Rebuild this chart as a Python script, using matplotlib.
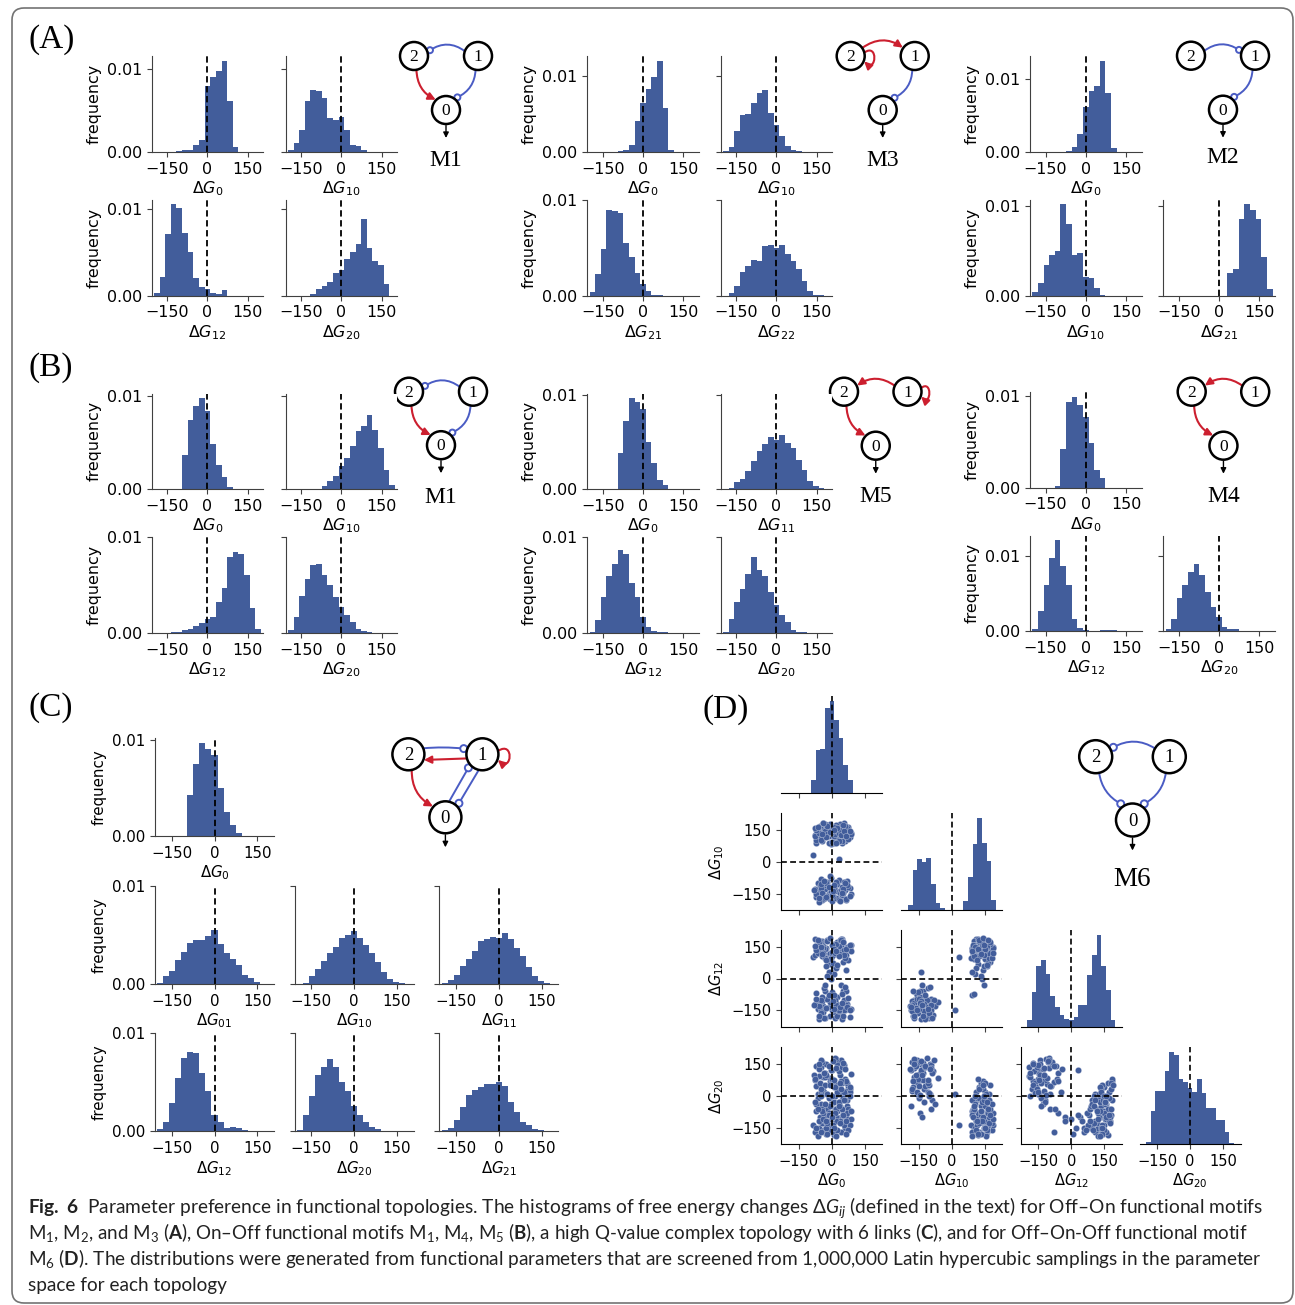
import numpy as np
import matplotlib
matplotlib.use('Agg')
import matplotlib.pyplot as plt
from matplotlib.patches import Circle, FancyArrowPatch, FancyBboxPatch
from matplotlib.path import Path
from matplotlib import font_manager
from matplotlib.ticker import FormatStrFormatter

W, H = 1295, 1305
BLUE = '#425d9b'
RED = '#cc1f2f'
NBLUE = '#4a5cc4'

# histogram bins (width 21, centred on 0)
bin_centers = [-210, -189, -168, -147, -126, -105, -84, -63, -42, -21, 0,
               21, 42, 63, 84, 105, 126, 147, 168, 189, 210]

# (A) Off-On motifs
A_M1_G0 = [0, 0, 0, 0, 0, 0.0001, 0.0003, 0.0003, 0.0008, 0.0015, 0.0079, 0.0090, 0.0098, 0.0110, 0.0061, 0.0006, 0, 0, 0, 0, 0]
A_M1_G10 = [0, 0.0002, 0.0011, 0.0027, 0.0061, 0.0074, 0.0073, 0.0065, 0.0041, 0.0038, 0.0042, 0.0026, 0.0008, 0.0007, 0.0003, 0, 0, 0, 0, 0, 0]
A_M1_G12 = [0, 0.0003, 0.0022, 0.0071, 0.0106, 0.0101, 0.0073, 0.0051, 0.0020, 0.0010, 0.0007, 0.0003, 0.0002, 0.0006, 0, 0, 0, 0, 0, 0, 0]
A_M1_G20 = [0, 0, 0, 0, 0, 0.0002, 0.0007, 0.0011, 0.0016, 0.0026, 0.0030, 0.0042, 0.0050, 0.0060, 0.0089, 0.0055, 0.0040, 0.0035, 0.0013, 0, 0]
A_M3_G0 = [0, 0, 0, 0, 0, 0, 0.0001, 0.0002, 0.0009, 0.0041, 0.0064, 0.0083, 0.0099, 0.0120, 0.0058, 0.0003, 0, 0, 0, 0, 0]
A_M3_G10 = [0, 0.0001, 0.0007, 0.0028, 0.0049, 0.0050, 0.0064, 0.0077, 0.0082, 0.0051, 0.0036, 0.0021, 0.0008, 0.0003, 0.0001, 0, 0, 0, 0, 0, 0]
A_M3_G21 = [0, 0.0004, 0.0022, 0.0048, 0.0089, 0.0088, 0.0086, 0.0055, 0.0040, 0.0023, 0.0012, 0.0005, 0.0001, 0.0001, 0, 0, 0, 0, 0, 0, 0]
A_M3_G22 = [0, 0, 0.0003, 0.0010, 0.0024, 0.0031, 0.0037, 0.0036, 0.0052, 0.0053, 0.0050, 0.0053, 0.0043, 0.0036, 0.0028, 0.0015, 0.0005, 0.0001, 0.0001, 0, 0]
A_M2_G0 = [0, 0, 0, 0, 0, 0, 0, 0.0001, 0.0007, 0.0024, 0.0061, 0.0084, 0.0090, 0.0125, 0.0080, 0.0005, 0, 0, 0, 0, 0]
A_M2_G10 = [0, 0.0004, 0.0014, 0.0034, 0.0045, 0.0050, 0.0102, 0.0080, 0.0045, 0.0047, 0.0021, 0.0020, 0.0008, 0.0001, 0, 0, 0, 0, 0, 0, 0]
A_M2_G21 = [0, 0, 0, 0, 0, 0, 0, 0, 0, 0, 0, 0, 0.0025, 0.0030, 0.0085, 0.0102, 0.0095, 0.0085, 0.0043, 0.0007, 0]

# (B) On-Off motifs
B_M1_G0 = [0, 0, 0, 0, 0, 0, 0.0037, 0.0074, 0.0089, 0.0098, 0.0084, 0.0049, 0.0026, 0.0013, 0.0002, 0, 0, 0, 0, 0, 0]
B_M1_G10 = [0, 0, 0, 0, 0, 0, 0, 0.0003, 0.0009, 0.0014, 0.0025, 0.0033, 0.0046, 0.0063, 0.0068, 0.0080, 0.0064, 0.0044, 0.0021, 0.0004, 0]
B_M1_G12 = [0, 0, 0, 0, 0.0001, 0.0001, 0.0003, 0.0004, 0.0007, 0.0010, 0.0014, 0.0017, 0.0032, 0.0047, 0.0079, 0.0085, 0.0083, 0.0061, 0.0026, 0.0004, 0]
B_M1_G20 = [0, 0.0003, 0.0017, 0.0039, 0.0056, 0.0071, 0.0072, 0.0061, 0.0050, 0.0038, 0.0027, 0.0019, 0.0011, 0.0004, 0.0002, 0.0001, 0, 0, 0, 0, 0]
B_M5_G0 = [0, 0, 0, 0, 0, 0.00005, 0.0038, 0.0072, 0.0097, 0.0093, 0.0085, 0.0050, 0.0028, 0.0010, 0.0004, 0, 0, 0, 0, 0, 0]
B_M5_G11 = [0, 0, 0.0001, 0.0007, 0.0011, 0.0019, 0.0030, 0.0040, 0.0048, 0.0055, 0.0052, 0.0058, 0.0049, 0.0044, 0.0031, 0.0020, 0.0008, 0.0003, 0.0001, 0, 0]
B_M5_G12 = [0, 0.0001, 0.0013, 0.0038, 0.0059, 0.0072, 0.0087, 0.0082, 0.0052, 0.0038, 0.0017, 0.0006, 0.0002, 0.0001, 0.0001, 0, 0, 0, 0, 0, 0]
B_M5_G20 = [0, 0.0001, 0.0014, 0.0032, 0.0046, 0.0062, 0.0079, 0.0066, 0.0059, 0.0043, 0.0029, 0.0019, 0.0011, 0.0003, 0.0001, 0.0001, 0, 0, 0, 0, 0]
B_M4_G0 = [0, 0, 0, 0, 0, 0.0002, 0.0042, 0.0093, 0.0099, 0.0090, 0.0077, 0.0048, 0.0019, 0.0010, 0, 0, 0, 0, 0, 0, 0]
B_M4_G12 = [0, 0.0003, 0.0026, 0.0061, 0.0097, 0.0121, 0.0087, 0.0061, 0.0016, 0.0004, 0.0001, 0, 0, 0.0001, 0.0001, 0.0001, 0, 0, 0, 0, 0]
B_M4_G20 = [0, 0.0003, 0.0016, 0.0044, 0.0061, 0.0079, 0.0089, 0.0074, 0.0052, 0.0032, 0.0019, 0.0005, 0.0003, 0.0003, 0, 0, 0, 0, 0, 0, 0]

# (C) complex topology with 6 links
C_G0 = [0, 0, 0, 0, 0, 0, 0.0043, 0.0075, 0.0097, 0.0091, 0.0084, 0.0050, 0.0025, 0.0012, 0.0003, 0, 0, 0, 0, 0, 0]
C_G01 = [0, 0.0001, 0.0008, 0.0013, 0.0024, 0.0033, 0.0042, 0.0045, 0.0045, 0.0049, 0.0055, 0.0041, 0.0032, 0.0026, 0.0019, 0.0009, 0.0006, 0.0002, 0, 0, 0]
C_G10 = [0, 0, 0.0001, 0.0008, 0.0015, 0.0023, 0.0032, 0.0038, 0.0047, 0.0050, 0.0054, 0.0047, 0.0040, 0.0032, 0.0022, 0.0012, 0.0005, 0.0002, 0.0001, 0, 0]
C_G11 = [0, 0.0001, 0.0004, 0.0009, 0.0018, 0.0026, 0.0034, 0.0044, 0.0046, 0.0048, 0.0047, 0.0052, 0.0046, 0.0037, 0.0029, 0.0017, 0.0008, 0.0003, 0.0001, 0, 0]
C_G12 = [0, 0.0002, 0.0010, 0.0029, 0.0054, 0.0075, 0.0081, 0.0080, 0.0060, 0.0041, 0.0017, 0.0009, 0.0003, 0.0004, 0.0003, 0.0001, 0.00005, 0.00005, 0, 0, 0]
C_G20 = [0, 0.0001, 0.0017, 0.0036, 0.0057, 0.0066, 0.0074, 0.0066, 0.0050, 0.0041, 0.0026, 0.0017, 0.0009, 0.0004, 0.0002, 0.00005, 0.00005, 0, 0, 0, 0]
C_G21 = [0, 0.0001, 0.0003, 0.0012, 0.0025, 0.0037, 0.0042, 0.0045, 0.0048, 0.0048, 0.0050, 0.0046, 0.0030, 0.0020, 0.0010, 0.0006, 0.0002, 0.0001, 0, 0, 0]

# (D) Off-On-Off motif M6: diagonal histograms
D_G0 = [0, 0, 0, 0, 0, 0, 0.0017, 0.0054, 0.0055, 0.0106, 0.0115, 0.0091, 0.0069, 0.0035, 0.0017, 0, 0, 0, 0, 0, 0]
D_G10 = [0, 0.0007, 0.0049, 0.0062, 0.0059, 0.0064, 0.0032, 0.0009, 0.0003, 0, 0, 0, 0, 0.0011, 0.0040, 0.0080, 0.0112, 0.0081, 0.0060, 0.0012, 0]
D_G12 = [0, 0.0008, 0.0042, 0.0073, 0.0080, 0.0064, 0.0037, 0.0024, 0.0015, 0.0010, 0.0009, 0.0012, 0.0027, 0.0027, 0.0062, 0.0087, 0.0111, 0.0073, 0.0045, 0.0008, 0]
D_G20 = [0, 0.0003, 0.0039, 0.0063, 0.0063, 0.0086, 0.0109, 0.0105, 0.0077, 0.0073, 0.0067, 0.0062, 0.0077, 0.0061, 0.0043, 0.0043, 0.0029, 0.0029, 0.0014, 0.0002, 0]

# (D) sampled parameter sets shown in the scatter plots
sc_G0 = [-40, 10, 55, -65, 25, -10, 70, -30, 40, -55, 0, 80, -20, 35, -70, 15, 60, -45, -5, 45,
         -35, 20, -60, 75, -15, 30, -50, 5, 65, -25, 50, -75, 15, -40, 85, -10, 40, -60, 25, -20,
         55, -45, 10, -30, 70, -5, 30, -50, 0, 45, -85, 30,
         -25, 50, -70, 20, 65, -50, 5, 35, -15, 80, -35, 45, -60, 10, -80, 60,
         20, -50, 60, -20, 35, -70, 5, 80, -35, 45, -10, 65, -55, 15, -25, 50, -65, 25, -5, 70,
         -40, 10, 40, -75, 30, -15, 55, -45, 0, 85, -30, 20, -60, 45, -20, 75, -50, 10, 35, -70,
         60, -5, 25, -35, 50, -25, 80, -55, 15, -10, 40, -40, 65, -75, 5, 30, -65, 55, -15, 20,
         -45, 70, -30, 10, 45, -20, 35, -50, 60, 0,
         -60, 15, 75, -30, 40, -70, 0, 55, -20, 85, -50, 25, -10, 65, -40, 30, -75, 10, 50, -25,
         80, -45, 20, -65]
sc_G10 = [-150, -120, -170, -100, -140, -175, -90, -130, -160, -115, -185, -125, -95, -145, -165, -105, -135, -180, -75, -155,
          -110, -170, -140, -120, -150, -85, -125, -160, -180, -100, -145, -130, -115, -175, -150, -65, -135, -190, -105, -160,
          -95, -145, -125, -170, -110, -140, -180, -80, -155, -120, 30, 15,
          -165, -130, -150, -95, -175, -105, -140, -185, -120, -160, -90, -145, -170, -110, -135, -100,
          120, 150, 100, 170, 135, 90, 160, 125, 145, 110, 180, 140, 130, 95, 155, 175, 115, 150, 85, 130,
          165, 105, 140, 125, 160, 120, 185, 100, 145, 135, 175, 110, 150, 90, 130, 165, 140, 120, 180, 105,
          155, 135, 95, 160, 125, 145, 115, 170, 130, 150, 100, 185, 140, 120, 165, 135, 155, 110, 90, 175,
          125, 160, 145, 90, 100, 130, 150, 115, 170, 140,
          135, 165, 110, 180, 125, 150, 95, 145, 170, 130, 105, 160, 140, 120, 185, 100, 160, 150, 175, 115,
          145, 130, 90, 165]
sc_G12 = [-130, -160, -100, -145, -85, -175, -120, -60, -140, -110, -150, -180, -95, -125, -70, -185, -150, -105, -130, -165,
          -45, -115, -190, -90, -135, -170, -155, -80, -125, -140, -60, -120, -100, -160, -145, -110, -30, -130, -175, -95,
          -150, -85, -120, -185, -135, 30, -155, -100, -65, -190, 100, -150,
          -140, -175, -95, -125, -60, -165, -105, -135, -80, -150, -185, -115, -175, -145, -125, -40,
          130, 160, 90, 110, 175, 140, 60, 150, 100, 185, 120, 40, 165, 115, 145, 80, 125, 170, 95, 135,
          155, 20, 185, 110, 130, 70, 150, 175, 105, 160, 140, 50, 120, 145, 180, 85, 135, 165, 115, 155,
          125, 0, 150, 100, 170, 60, 140, 175, 130, 90, 160, 145, 110, 185, 75, 155, 120, 135, 30, 165,
          105, 150, -30, -80, -75, 10, 180, 140, 95, 125,
          170, 120, 150, 95, 180, 135, 160, 110, 175, 130, 150, 65, 190, 140, 120, 105, 155, 140, 170, 85,
          160, 115, 130, 180]
sc_G20 = [90, 40, 130, 10, 150, 70, -20, 110, 170, 55, 120, 30, -60, 100, 140, 0, 80, 160, -40, 60,
          20, 175, 95, 45, -10, 115, 135, 65, 25, 150, -80, 75, 180, 40, 105, 85, -100, 125, 50, 10,
          145, 160, -30, 90, 60, 120, 30, 170, 80, 135, -140, 10,
          100, 155, 45, 130, 70, 15, 165, -50, 140, 20, 110, 5, 150, 75, 100, 125,
          -100, -40, -150, 10, -120, -70, -170, 40, -130, -20, -160, -100, 60, -60, -180, -90, -10, 20, -140, -50,
          -110, -150, 70, -170, -30, -80, -140, -60, 0, -110, 50, -120, -150, -20, -90, -60, 30, -185, -130, -40,
          10, -110, -70, -160, -10, -150, -140, -100, 40, -50, -170, -80, -120, 80, -140, -30, -190, 20, -90, -60,
          -130, -80, -120, -170, -60, -180, 60, -170, -20, -100,
          -120, -80, -160, -40, 30, -150, -100, -20, -130, -70, 0, -160, 50, -180, -110, -50, -30, -150, -90, -120,
          0, -70, -190, -60]

fig = plt.figure(figsize=(W / 100, H / 100), dpi=100)

# overlay in pixel coordinates for diagrams, labels, caption, frame
ov = fig.add_axes([0, 0, 1, 1])
ov.set_xlim(0, W)
ov.set_ylim(H, 0)
ov.axis('off')
ov.patch.set_alpha(0)


def px_axes(x0, y0, w, h, **kw):
    return fig.add_axes([x0 / W, 1 - (y0 + h) / H, w / W, h / H], **kw)


def draw_hist(ax, heights, sub, fs):
    ax.bar(bin_centers, heights, width=21, color=BLUE, linewidth=0)
    ax.axvline(0, color='black', ls=(0, (3.5, 2)), lw=1.3)
    ax.set_xlim(-208, 208)
    ax.set_xticks([-150, 0, 150])
    ax.set_yticks([0, 0.01])
    ax.yaxis.set_major_formatter(FormatStrFormatter('%.2f'))
    for s in ['top', 'right']:
        ax.spines[s].set_visible(False)
    for s in ['left', 'bottom']:
        ax.spines[s].set_color('0.25')
    ax.tick_params(labelsize=fs, color='0.25')
    ax.set_xlabel(r'$\Delta G_{%s}$' % sub, fontsize=fs, labelpad=2)


def hist_grid(xs, ys, w, h, rows, fs):
    for y0, row in zip(ys, rows):
        first = None
        for x0, item in zip(xs, row):
            if item is None:
                continue
            heights, sub = item
            ax = px_axes(x0, y0, w, h, sharey=first)
            draw_hist(ax, heights, sub, fs)
            if first is None:
                ax.set_ylabel('frequency', fontsize=fs)
                first = ax
            else:
                ax.tick_params(labelleft=False)


# (A)
hist_grid([151.7, 285.7], [56, 199.5], 111.5, 96,
          [[(A_M1_G0, '0'), (A_M1_G10, '10')], [(A_M1_G12, '12'), (A_M1_G20, '20')]], 11.4)
hist_grid([587.3, 720.7], [56, 199.5], 111.5, 96,
          [[(A_M3_G0, '0'), (A_M3_G10, '10')], [(A_M3_G21, '21'), (A_M3_G22, '22')]], 11.4)
hist_grid([1030, 1163.3], [56, 199.5], 111.5, 96,
          [[(A_M2_G0, '0'), None], [(A_M2_G10, '10'), (A_M2_G21, '21')]], 11.4)
# (B)
hist_grid([151.7, 285.7], [393.5, 537.3], 111.5, 95.5,
          [[(B_M1_G0, '0'), (B_M1_G10, '10')], [(B_M1_G12, '12'), (B_M1_G20, '20')]], 11.4)
hist_grid([587.3, 720.7], [393.5, 537.3], 111.5, 95.5,
          [[(B_M5_G0, '0'), (B_M5_G11, '11')], [(B_M5_G12, '12'), (B_M5_G20, '20')]], 11.4)
hist_grid([1030, 1163.3], [392, 535.5], 111.5, 95.5,
          [[(B_M4_G0, '0'), None], [(B_M4_G12, '12'), (B_M4_G20, '20')]], 11.4)
# (C)
hist_grid([155, 294.5, 439.4], [738.3, 886, 1033.3], 119, 98,
          [[(C_G0, '0'), None, None],
           [(C_G01, '01'), (C_G10, '10'), (C_G11, '11')],
           [(C_G12, '12'), (C_G20, '20'), (C_G21, '21')]], 10.8)

# (D) pair plot
d_hist = [D_G0, D_G10, D_G12, D_G20]
d_samp = [sc_G0, sc_G10, sc_G12, sc_G20]
d_sub = ['0', '10', '12', '20']
d_x = [781.4, 901.4, 1020.7, 1139.6]
d_y = [696.3, 813.3, 930, 1047.3]
fsd = 10.5
for i in range(4):
    for j in range(i + 1):
        ax = px_axes(d_x[j], d_y[i], 101, 97)
        if i == j:
            ax.bar(bin_centers, d_hist[i], width=21, color=BLUE, linewidth=0)
            ax.axvline(0, color='black', ls=(0, (3.5, 2)), lw=1.2)
            ax.spines['left'].set_visible(False)
            ax.set_yticks([])
        else:
            ax.scatter(d_samp[j], d_samp[i], s=21, color=BLUE, edgecolors='white', linewidths=0.2, zorder=2)
            ax.axvline(0, color='black', ls=(0, (3.5, 2)), lw=1.2, zorder=3)
            ax.axhline(0, color='black', ls=(0, (3.5, 2)), lw=1.2, zorder=3)
            ax.set_ylim(-229, 229)
            ax.set_yticks([-150, 0, 150])
        ax.set_xlim(-229, 229)
        ax.set_xticks([-150, 0, 150])
        for s in ['top', 'right']:
            ax.spines[s].set_visible(False)
        ax.tick_params(labelsize=fsd, color='0.25')
        if i == 3:
            ax.set_xlabel(r'$\Delta G_{%s}$' % d_sub[j], fontsize=fsd, labelpad=2)
        else:
            ax.tick_params(labelbottom=False)
        if j == 0 and i > 0:
            ax.set_ylabel(r'$\Delta G_{%s}$' % d_sub[i], fontsize=fsd)
        else:
            ax.tick_params(labelleft=False)


# network motif diagrams
def pt(c, r, ang):
    a = np.deg2rad(ang)
    return (c[0] + r * np.cos(a), c[1] - r * np.sin(a))


def draw_motif(n2, dx, dy, r, rc, edges, loops, label, fs_node, fs_label, label_dy):
    nodes = {2: n2, 1: (n2[0] + dx, n2[1]), 0: (n2[0] + dx / 2, n2[1] + dy)}
    for kind, src, a_src, dst, a_dst, rad in edges:
        p = pt(nodes[src], r, a_src)
        if kind == 'act':
            q = pt(nodes[dst], r + 0.5, a_dst)
            ov.add_patch(FancyArrowPatch(p, q, arrowstyle='-|>', mutation_scale=11,
                                         connectionstyle='arc3,rad=%s' % rad, color=RED,
                                         lw=1.5, shrinkA=0, shrinkB=0, zorder=2))
        else:
            q = pt(nodes[dst], r + rc, a_dst)
            ov.add_patch(FancyArrowPatch(p, q, arrowstyle='-', connectionstyle='arc3,rad=%s' % rad,
                                         color=NBLUE, lw=1.4, shrinkA=0, shrinkB=0, zorder=2))
            ov.add_patch(Circle(q, rc, facecolor='white', edgecolor=NBLUE, lw=1.4, zorder=3))
    for nd, a1, a2, ext in loops:
        c = nodes[nd]
        verts = [pt(c, r, a1), pt(c, r + ext, a1 + 12), pt(c, r + ext, a2 - 12), pt(c, r + 0.5, a2)]
        path = Path(verts, [Path.MOVETO, Path.CURVE4, Path.CURVE4, Path.CURVE4])
        ov.add_patch(FancyArrowPatch(path=path, arrowstyle='-|>', mutation_scale=11,
                                     color=RED, lw=1.5, zorder=2))
    for k, c in nodes.items():
        ov.add_patch(Circle(c, r, facecolor='white', edgecolor='black', lw=1.8, zorder=4))
        ov.text(c[0], c[1] + 1, str(k), ha='center', va='center', family='Liberation Serif',
                fontsize=fs_node, zorder=5)
    n0 = nodes[0]
    ov.add_patch(FancyArrowPatch((n0[0], n0[1] + r + 1.5), (n0[0], n0[1] + r + 14),
                                 arrowstyle='-|>', mutation_scale=8, color='black', lw=1.0,
                                 shrinkA=0, shrinkB=0, zorder=2))
    if label:
        ov.text(n0[0], n0[1] + label_dy, label, ha='center', va='center',
                family='Liberation Serif', fontsize=fs_label)


m1_edges = [('inh', 1, 160, 2, 20, 0.35), ('act', 2, -80, 0, 135, 0.3), ('inh', 1, -100, 0, 48, -0.3)]
m3_edges = [('act', 2, 35, 1, 145, -0.35), ('inh', 1, -100, 0, 46, -0.3)]
m2_edges = [('inh', 2, 20, 1, 160, -0.35), ('inh', 1, -100, 0, 49, -0.3)]
m5_edges = [('act', 1, 155, 2, 25, 0.35), ('act', 2, -80, 0, 135, 0.3)]
c_edges = [('inh', 2, 22, 1, 163, -0.05), ('act', 1, 195, 2, -20, 0.0), ('act', 2, -78, 0, 139, 0.3),
           ('inh', 0, 77, 1, -136, 0.0), ('inh', 1, -103, 0, 46, 0.0)]
m6_edges = [('inh', 1, 150, 2, 28, 0.3), ('inh', 2, -78, 0, 126, 0.25), ('inh', 1, -102, 0, 54, -0.25)]

draw_motif((414, 56), 64, 54, 14, 3, m1_edges, [], 'M1', 12.5, 17, 50)
draw_motif((850.7, 56), 64, 54, 14, 3, m3_edges, [(2, 14, -22, 17)], 'M3', 12.5, 17, 50)
draw_motif((1191, 55.7), 64, 54, 14, 3, m2_edges, [], 'M2', 12.5, 17, 48)
draw_motif((409, 391.7), 64, 53.5, 14, 3, m1_edges, [], 'M1', 12.5, 17, 52)
draw_motif((844, 391.7), 63.5, 54, 14, 3, m5_edges, [(1, 15, -20, 14)], 'M5', 12.5, 17, 51)
draw_motif((1191.7, 391.7), 63.5, 54, 14, 3, m5_edges, [], 'M4', 12.5, 17, 51)
draw_motif((408.4, 754.3), 74, 63, 16, 3.5, c_edges, [(1, 12, -20, 19)], None, 13.5, 17, 0)
draw_motif((1095.7, 756.7), 73.6, 63.3, 16.5, 3.5, m6_edges, [], 'M6', 13.5, 19.5, 60)

# panel letters
for txt, x, y in [('(A)', 29, 40), ('(B)', 29, 368), ('(C)', 29, 708), ('(D)', 703, 710)]:
    ov.text(x, y, txt, ha='left', va='center', family='Liberation Serif', fontsize=24)

# frame
ov.add_patch(FancyBboxPatch((12, 8), 1281, 1295, boxstyle='round,pad=0,rounding_size=12',
                            fill=False, edgecolor='0.45', lw=1.2))

# caption
names = {f.name for f in font_manager.fontManager.ttflist}
cap_font = 'Liberation Sans Narrow' if 'Liberation Sans Narrow' in names else 'Lato'
plt.rcParams['mathtext.rm'] = cap_font
plt.rcParams['mathtext.it'] = cap_font + ':italic'
plt.rcParams['mathtext.bf'] = cap_font + ':bold'

cap_lines = [
    r'$\mathbf{Fig.\ 6}$  Parameter preference in functional topologies. The histograms of free energy changes '
    r'$\mathrm{\Delta}\mathit{G_{ij}}$ (defined in the text) for Off–On functional motifs',
    r'M$_\mathrm{1}$, M$_\mathrm{2}$, and M$_\mathrm{3}$ ($\mathbf{A}$), On–Off functional motifs M$_\mathrm{1}$, '
    r'M$_\mathrm{4}$, M$_\mathrm{5}$ ($\mathbf{B}$), a high Q-value complex topology with 6 links ($\mathbf{C}$), '
    r'and for Off–On-Off functional motif',
    r'M$_\mathrm{6}$ ($\mathbf{D}$). The distributions were generated from functional parameters that are screened '
    r'from 1,000,000 Latin hypercubic samplings in the parameter',
    'space for each topology',
]
cap_width = [1239, 1227, 1241]
cap_texts = []
for k, line in enumerate(cap_lines):
    t = ov.text(27.5, 1213 + 26 * k, line, ha='left', va='baseline', family=cap_font,
                fontsize=14, color='#222222', math_fontfamily='custom')
    cap_texts.append(t)

fig.canvas.draw()
rend = fig.canvas.get_renderer()
for t, target in zip(cap_texts[:3], cap_width):
    w = t.get_window_extent(rend).width
    t.set_fontsize(t.get_fontsize() * target / w)
cap_texts[3].set_fontsize(cap_texts[2].get_fontsize())

fig.savefig('out.png', dpi=100)
